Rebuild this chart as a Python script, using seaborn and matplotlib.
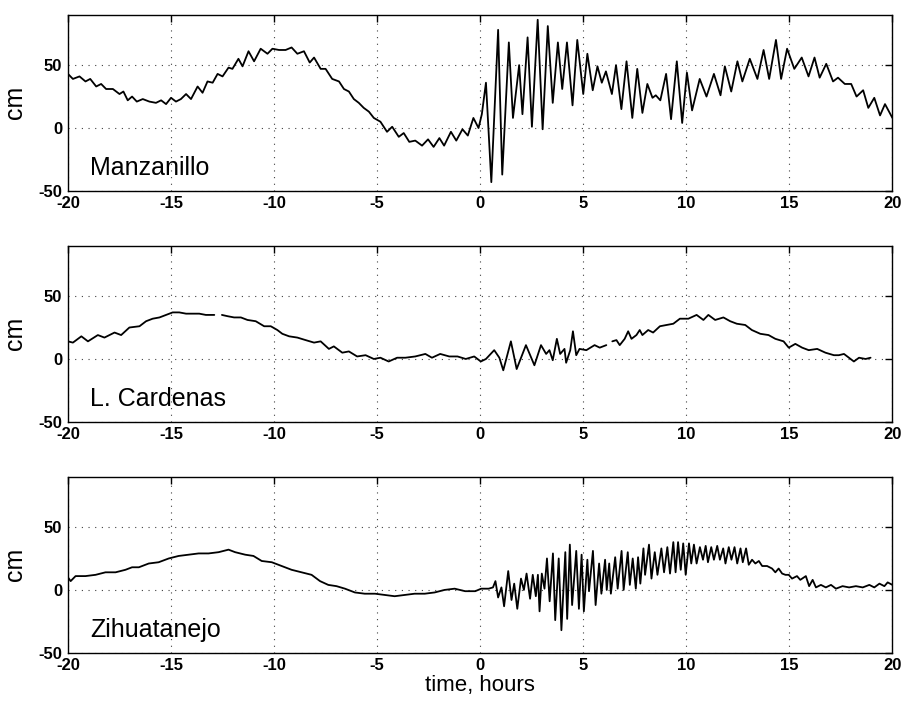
import numpy as np
import pandas as pd
import matplotlib
matplotlib.use("Agg")
import matplotlib.pyplot as plt
import seaborn as sns

sns.set_style("white")
plt.rcParams['font.family'] = ['Liberation Sans', 'DejaVu Sans']
plt.rcParams['axes.unicode_minus'] = False
plt.rcParams['text.color'] = 'black'
plt.rcParams['axes.labelcolor'] = 'black'

nan = float('nan')

# Manzanillo (hours, cm)
t_manz = [-20, -19.76, -19.44, -19.15, -18.92, -18.63, -18.39, -18.15, -17.82, -17.5,
          -17.31, -17.1, -16.89, -16.66, -16.37, -16.05, -15.73, -15.48, -15.24, -15.0,
          -14.76, -14.52, -14.27, -14.03, -13.71, -13.47, -13.23, -12.98, -12.74, -12.5,
          -12.21, -12.02, -11.73, -11.53, -11.24, -10.97, -10.65, -10.32, -10.08, -9.76,
          -9.44, -9.15, -8.87, -8.55, -8.27, -8.06, -7.74, -7.5, -7.18, -6.85,
          -6.61, -6.37, -6.13, -5.89, -5.65, -5.4, -5.16, -4.84, -4.52, -4.27,
          -3.95, -3.71, -3.44, -3.15, -2.82, -2.53, -2.26, -1.98, -1.75, -1.42,
          -1.16, -0.86, -0.6, -0.33, -0.08, 0.08, 0.28, 0.54, 0.87, 1.07,
          1.39, 1.59, 1.89, 2.05, 2.3, 2.51, 2.79, 3.03, 3.28, 3.52,
          3.77, 3.98, 4.21, 4.48, 4.71, 5.0, 5.2, 5.46, 5.69, 5.9,
          6.1, 6.39, 6.59, 6.85, 7.1, 7.38, 7.62, 7.87, 8.11, 8.36,
          8.52, 8.74, 9.02, 9.26, 9.54, 9.8, 10.03, 10.28, 10.65, 10.98,
          11.34, 11.66, 11.87, 12.18, 12.48, 12.72, 13.08, 13.45, 13.75, 14.02,
          14.35, 14.6, 14.89, 15.24, 15.6, 15.93, 16.22, 16.47, 16.79, 17.12,
          17.36, 17.69, 18.0, 18.26, 18.58, 18.83, 19.12, 19.4, 19.64, 20.0]
cm_manz = [43, 39, 41, 37, 39, 33, 35, 31, 31, 27,
           29, 22, 25, 21, 23, 21, 20, 22, 19, 24,
           21, 23, 27, 23, 33, 28, 37, 36, 43, 41,
           48, 47, 55, 49, 61, 53, 63, 59, 63, 62,
           62, 64, 59, 61, 52, 56, 47, 47, 39, 37,
           31, 29, 23, 20, 16, 13, 8, 5, -3, 1,
           -7, -4, -11, -10, -14, -9, -15, -8, -14, -3,
           -10, -1, -6, 8, 0, 11, 36, -43, 78, -37,
           68, 8, 50, 11, 72, 1, 86, -1, 81, 20,
           68, 31, 68, 18, 70, 27, 59, 30, 49, 36,
           45, 27, 50, 15, 53, 8, 47, 12, 35, 24,
           26, 22, 43, 7, 53, 4, 44, 14, 39, 25,
           43, 26, 49, 29, 53, 37, 55, 39, 62, 39,
           70, 39, 63, 47, 56, 41, 56, 40, 51, 37,
           40, 35, 35, 25, 30, 16, 24, 10, 19, 8]

# L. Cardenas (nan = gap in the record)
t_card = [-20, -19.76, -19.35, -19.03, -18.55, -18.23, -17.74, -17.42, -17.02, -16.53,
          -16.21, -15.89, -15.56, -15.24, -14.92, -14.6, -14.27, -13.95, -13.63, -13.31,
          -12.9, -12.7, -12.53, -12.26, -11.94, -11.61, -11.29, -10.89, -10.48, -10.16,
          -9.84, -9.6, -9.27, -8.87, -8.47, -8.06, -7.74, -7.34, -7.1, -6.69,
          -6.37, -5.97, -5.56, -5.16, -4.84, -4.44, -4.03, -3.63, -3.15, -2.66,
          -2.34, -1.94, -1.5, -1.1, -0.7, -0.29, 0.03, 0.28, 0.68, 0.93,
          1.12, 1.49, 1.77, 2.22, 2.63, 2.95, 3.2, 3.36, 3.52, 3.72,
          3.88, 4.09, 4.17, 4.37, 4.5, 4.66, 4.82, 5.15, 5.55, 5.8,
          6.12, 6.27, 6.41, 6.61, 6.77, 7.01, 7.18, 7.34, 7.58, 7.74,
          7.87, 8.15, 8.39, 8.72, 9.04, 9.37, 9.69, 10.1, 10.5, 10.83,
          11.07, 11.4, 11.8, 12.13, 12.45, 12.86, 13.18, 13.59, 13.99, 14.32,
          14.72, 14.97, 15.29, 15.62, 15.94, 16.35, 16.75, 17.16, 17.4, 17.65,
          17.89, 18.13, 18.38, 18.7, 18.94]
cm_card = [14, 13, 18, 14, 19, 17, 21, 19, 25, 26,
           30, 32, 33, 35, 37, 37, 36, 36, 36, 35,
           35, nan, 35, 34, 33, 33, 31, 30, 26, 26,
           23, 20, 18, 17, 15, 13, 14, 8, 10, 5,
           6, 2, 3, 0, 1, -2, 1, 1, 2, 4,
           1, 4, 2, 2, 0, 2, -2, 0, 7, 1,
           -9, 14, -8, 11, -5, 11, 4, 7, -1, 16,
           4, 8, -3, 7, 22, 3, 8, 7, 11, 9,
           11, nan, 14, 15, 11, 16, 22, 16, 19, 23,
           19, 23, 21, 26, 27, 28, 32, 32, 35, 31,
           35, 31, 33, 30, 28, 27, 23, 20, 19, 16,
           14, 9, 12, 9, 7, 8, 5, 3, 3, 4,
           1, -2, 1, 0, 1]

# Zihuatanejo
t_zihu = [-20, -19.87, -19.63, -19.15, -18.66, -18.18, -17.69, -17.21, -16.89, -16.56,
          -16.08, -15.6, -15.11, -14.63, -14.15, -13.66, -13.18, -12.69, -12.21, -11.89,
          -11.4, -11.0, -10.6, -10.11, -9.63, -9.15, -8.66, -8.18, -7.77, -7.37,
          -6.97, -6.56, -6.08, -5.6, -5.1, -4.63, -4.15, -3.66, -3.18, -2.69,
          -2.21, -1.73, -1.24, -0.73, -0.24, 0.05, 0.41, 0.62, 0.74, 0.87,
          1.03, 1.16, 1.36, 1.52, 1.65, 1.8, 1.98, 2.12, 2.25, 2.42,
          2.55, 2.7, 2.8, 2.88, 2.99, 3.12, 3.24, 3.37, 3.53, 3.64,
          3.81, 3.94, 4.13, 4.22, 4.35, 4.46, 4.66, 4.79, 4.92, 5.03,
          5.2, 5.28, 5.47, 5.6, 5.77, 5.88, 6.06, 6.14, 6.26, 6.34,
          6.55, 6.67, 6.86, 6.96, 7.16, 7.26, 7.4, 7.55, 7.66, 7.77,
          7.92, 8.0, 8.19, 8.31, 8.47, 8.6, 8.79, 8.92, 9.08, 9.21,
          9.37, 9.48, 9.6, 9.73, 9.85, 9.97, 10.13, 10.24, 10.37, 10.5,
          10.66, 10.81, 10.94, 11.05, 11.21, 11.34, 11.5, 11.63, 11.79, 11.9,
          12.06, 12.19, 12.34, 12.47, 12.63, 12.74, 12.9, 13.03, 13.19, 13.35,
          13.52, 13.68, 13.92, 14.16, 14.32, 14.48, 14.65, 14.81, 14.97, 15.13,
          15.37, 15.53, 15.8, 15.96, 16.13, 16.29, 16.53, 16.77, 17.02, 17.26,
          17.58, 17.9, 18.23, 18.56, 18.88, 19.12, 19.37, 19.61, 19.77, 20.0]
cm_zihu = [10, 7, 11, 11, 12, 14, 14, 16, 18, 18,
           21, 22, 25, 27, 28, 29, 29, 30, 32, 30,
           28, 27, 23, 22, 19, 16, 14, 12, 7, 4,
           3, 1, -2, -3, -3, -4, -5, -4, -3, -3,
           -2, 0, 1, -1, -1, 1, 1, 2, 7, -6,
           2, -13, 15, -8, 5, -15, 9, 0, 13, -7,
           12, -5, 12, -17, 13, 1, 25, -9, 29, -24,
           25, -32, 30, -23, 36, -12, 31, -15, 28, -17,
           24, -1, 31, -12, 21, -3, 24, 0, 21, -3,
           26, 1, 31, 0, 30, 4, 25, 1, 26, 5,
           33, 12, 36, 9, 30, 12, 33, 14, 34, 13,
           38, 14, 38, 16, 37, 12, 37, 21, 36, 21,
           34, 24, 35, 22, 34, 24, 35, 24, 33, 21,
           34, 24, 34, 21, 33, 22, 33, 20, 24, 21,
           23, 19, 19, 17, 14, 17, 13, 12, 12, 9,
           11, 8, 11, 3, 8, 2, 4, 2, 4, 1,
           3, 2, 3, 2, 4, 2, 5, 3, 6, 4]

stations = [("Manzanillo", t_manz, cm_manz),
            ("L. Cardenas", t_card, cm_card),
            ("Zihuatanejo", t_zihu, cm_zihu)]
x_ticks = list(range(-20, 21, 5))
y_ticks = [-50, 0, 50]

fig = plt.figure(figsize=(9.11, 7.02), dpi=100)
bottoms = [0.728, 0.399, 0.070]

for (name, t, cm), b in zip(stations, bottoms):
    ax = fig.add_axes([0.0746, b, 0.905, 0.251])
    df = pd.DataFrame({'t': t, 'cm': cm})
    df['seg'] = df['cm'].isna().cumsum()
    df = df.dropna()
    sns.lineplot(data=df, x='t', y='cm', units='seg', estimator=None,
                 sort=False, color='black', lw=1.3, ax=ax)
    ax.set_xlim(-20, 20)
    ax.set_ylim(-50, 90)
    ax.set_xticks(x_ticks)
    ax.set_yticks(y_ticks)
    ax.grid(True, color='0.25', linestyle=(0, (1, 5)), linewidth=0.8)
    ax.tick_params(direction='in', top=True, right=True, length=5, width=1,
                   labelsize=12, pad=4, colors='black')
    for lab in ax.get_xticklabels() + ax.get_yticklabels():
        lab.set_fontweight('bold')
    for sp in ax.spines.values():
        sp.set_color('black')
        sp.set_linewidth(1.0)
    ax.set_ylabel('cm', fontsize=18, labelpad=8)
    ax.set_xlabel('')
    ax.text(0.027, 0.09, name, transform=ax.transAxes, fontsize=18)

ax.set_xlabel('time, hours', fontsize=16, labelpad=1)
fig.savefig('out.png', dpi=100)
